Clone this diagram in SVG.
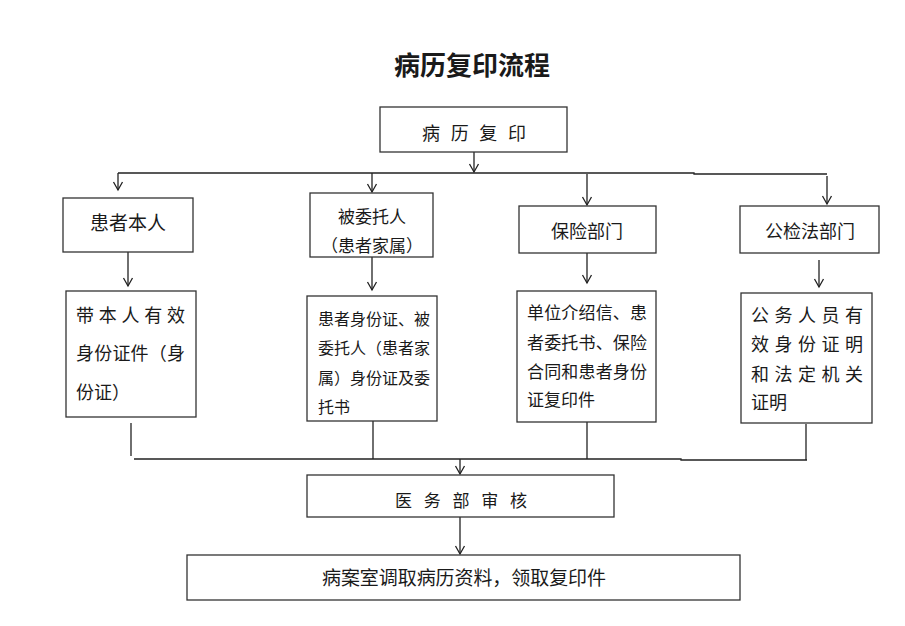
<svg xmlns="http://www.w3.org/2000/svg" width="905" height="626" viewBox="0 0 905 626">
<style>
.bg{fill:#fff}
.box{fill:#fff;stroke:#333;stroke-width:1.3}
.t{font-family:"Noto Sans CJK SC","Liberation Sans",sans-serif;fill:#1a1a1a}
.c{fill:none;stroke:#222;stroke-width:1.3}
.a{marker-end:url(#arr)}
</style>
<defs>
<marker id="arr" markerUnits="userSpaceOnUse" markerWidth="12" markerHeight="12" refX="0" refY="0" orient="auto" overflow="visible">
<path d="M-8,-4.5 L0,0 L-8,4.5" fill="none" stroke="#222" stroke-width="1.3"/>
</marker>
</defs>
<rect class="bg" width="905" height="626"/>
<text class="t" x="472" y="75" font-size="26" font-weight="bold" text-anchor="middle">病历复印流程</text>

<g id="connectors">
<path class="c a" d="M474,152 V172"/>
<path class="c" d="M118,173 H694 V174 H827"/>
<path class="c a" d="M118,173 V190"/>
<path class="c a" d="M372,173 V192"/>
<path class="c a" d="M587,174 V205"/>
<path class="c a" d="M827,176 V204"/>
<path class="c a" d="M128,252 V286"/>
<path class="c a" d="M372,257 V290"/>
<path class="c a" d="M587,253 V283"/>
<path class="c a" d="M819,260 V287"/>
<path class="c" d="M131,423 V456"/>
<path class="c" d="M134,459 H681 V460 H807"/>
<path class="c" d="M373,421 V459"/>
<path class="c" d="M587,422 V459"/>
<path class="c" d="M806,424 V460"/>
<path class="c a" d="M460,459 V474"/>
<path class="c a" d="M460,517 V554"/>
</g>

<g id="n-top">
<rect class="box" x="380" y="107" width="187" height="45"/>
<text class="t" x="422" y="140" font-size="18" textLength="104" lengthAdjust="spacing">病历复印</text>
</g>
<g id="n-self">
<rect class="box" x="63" y="198" width="130" height="54"/>
<text class="t" x="128" y="230" font-size="19" text-anchor="middle">患者本人</text>
</g>
<g id="n-agent">
<rect class="box" x="310" y="193" width="123" height="64"/>
<text class="t" x="372" y="223" font-size="17" text-anchor="middle">被委托人</text>
<text class="t" x="372" y="252" font-size="17" text-anchor="middle">（患者家属）</text>
</g>
<g id="n-insure">
<rect class="box" x="519" y="206" width="137" height="47"/>
<text class="t" x="587" y="238" font-size="18" text-anchor="middle">保险部门</text>
</g>
<g id="n-law">
<rect class="box" x="740" y="206" width="139" height="47"/>
<text class="t" x="810" y="238" font-size="18" text-anchor="middle">公检法部门</text>
</g>

<g id="d-self">
<rect class="box" x="66" y="291" width="130" height="126"/>
<text class="t" x="76" y="322" font-size="18" textLength="109" lengthAdjust="spacing">带本人有效</text>
<text class="t" x="76" y="360" font-size="18" textLength="109" lengthAdjust="spacing">身份证件（身</text>
<text class="t" x="76" y="399" font-size="18">份证）</text>
</g>
<g id="d-agent">
<rect class="box" x="307" y="296" width="130" height="125"/>
<text class="t" x="318" y="325" font-size="16" textLength="112" lengthAdjust="spacing">患者身份证、被</text>
<text class="t" x="318" y="354" font-size="16" textLength="112" lengthAdjust="spacing">委托人（患者家</text>
<text class="t" x="318" y="384" font-size="16" textLength="112" lengthAdjust="spacing">属）身份证及委</text>
<text class="t" x="318" y="413" font-size="16">托书</text>
</g>
<g id="d-insure">
<rect class="box" x="517" y="291" width="139" height="131"/>
<text class="t" x="527" y="319" font-size="17" textLength="120" lengthAdjust="spacing">单位介绍信、患</text>
<text class="t" x="527" y="349" font-size="17" textLength="120" lengthAdjust="spacing">者委托书、保险</text>
<text class="t" x="527" y="378" font-size="17" textLength="120" lengthAdjust="spacing">合同和患者身份</text>
<text class="t" x="527" y="406" font-size="17">证复印件</text>
</g>
<g id="d-law">
<rect class="box" x="741" y="293" width="131" height="130"/>
<text class="t" x="751" y="322" font-size="18" textLength="112" lengthAdjust="spacing">公务人员有</text>
<text class="t" x="751" y="351" font-size="18" textLength="112" lengthAdjust="spacing">效身份证明</text>
<text class="t" x="751" y="381" font-size="18" textLength="112" lengthAdjust="spacing">和法定机关</text>
<text class="t" x="751" y="409" font-size="18">证明</text>
</g>

<g id="n-audit">
<rect class="box" x="307" y="475" width="307" height="42"/>
<text class="t" x="395" y="507" font-size="17" textLength="132" lengthAdjust="spacing">医务部审核</text>
</g>
<g id="n-final">
<rect class="box" x="187" y="555" width="553" height="45"/>
<text class="t" x="322" y="585" font-size="19" textLength="284" lengthAdjust="spacing">病案室调取病历资料，领取复印件</text>
</g>
</svg>
